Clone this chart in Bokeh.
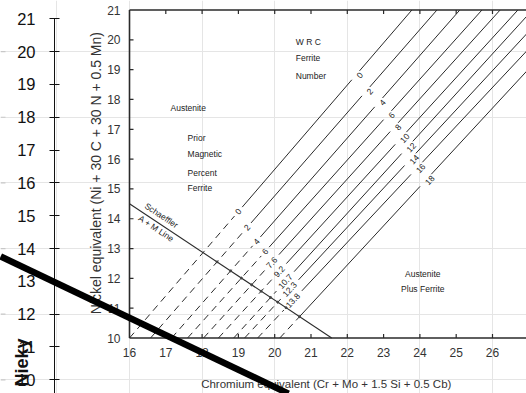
import math
from bokeh.plotting import figure
from bokeh.models import Range1d, LinearAxis, FixedTicker
from bokeh.core.properties import value
from bokeh.embed import file_html
from bokeh.resources import INLINE

# ---------------- overlay chart (front) ----------------
overlay_ticks = [10, 11, 12, 13, 14, 15, 16, 17, 18, 19, 20, 21]
overlay_grid = [10, 12, 14, 16, 18, 20]
overlay_label = "Nieky"
thick_x = [12.45, 20.38]      # along Cr-equivalent scale
thick_y = [13.76, 9.58]       # overlay Ni-equivalent scale

# ---------------- WRC diagram (background) ----------------
cr_ticks = [16, 17, 18, 19, 20, 21, 22, 23, 24, 25, 26]
ni_ticks = [10, 11, 12, 13, 14, 15, 16, 17, 18, 19, 20, 21]
fn_labels = ["0", "2", "4", "6", "8", "10", "12", "14", "16", "18"]
pmpf_labels = ["0", "2", "4", "6", "7.6", "9.2", "10.7", "12.3", "13.8", ""]
fn_bottom_cr = [16.0, 16.58, 17.16, 17.60, 18.04, 18.45, 18.87, 19.17, 19.53, 20.14]
fn_top_cr = [23.78, 24.47, 25.10, 25.71, 26.21, 26.70, 27.10, 27.55, 28.00, 28.50]
pmpf_label_ni = [14.24, 13.71, 13.24, 12.90, 12.53, 12.23, 11.90, 11.63, 11.26, 10.71]
fn_label_ni = [18.81, 18.27, 17.90, 17.47, 17.07, 16.70, 16.39, 15.99, 15.69, 15.29]
schaeffler_cr = [16.0, 21.57]
schaeffler_ni = [14.5, 10.0]

region_text = ["W R C", "Ferrite", "Number", "Austenite", "Prior", "Magnetic",
               "Percent", "Ferrite"]
region_cr = [20.58, 20.58, 20.58, 17.13, 17.60, 17.60, 17.60, 17.60]
region_ni = [19.92, 19.38, 18.78, 17.70, 16.72, 16.16, 15.52, 15.02]
af_text = ["Austenite", "Plus Ferrite"]
af_cr = [24.08, 24.08]
af_ni = [12.16, 11.66]

ni_title = "Nickel equivalent (Ni + 30 C + 30 N + 0.5 Mn)"
cr_title = "Chromium equivalent (Cr + Mo + 1.5 Si + 0.5 Cb)"

# pixel scale of the background diagram
PX_CR = 36.3
PX_NI = 29.82
X0 = 12.446          # left edge of the canvas on the Cr scale
AXIS_X = 13.934      # where the overlay axis stands

p = figure(width=526, height=393, output_backend="svg", toolbar_location=None,
           x_range=Range1d(X0, 26.937), y_range=Range1d(9.583, 21.558),
           x_axis_location=None, y_axis_location=None,
           min_border_left=0, min_border_right=0, min_border_top=0, min_border_bottom=0)
p.extra_y_ranges = {"wrc": Range1d(8.139, 21.319)}
p.outline_line_color = None
p.background_fill_color = "white"
p.border_fill_color = "white"

INK = "#2a2a2a"
FONT = value("Liberation Sans")

# faint stubs at the left edge
p.segment(x0=[X0] * len(overlay_grid), y0=overlay_grid, x1=[X0 + 5.0 / PX_CR] * len(overlay_grid),
          y1=overlay_grid, line_color="#c8c8c8", line_width=1.2)

# border of the diagram
p.multi_line(xs=[[cr_ticks[0], cr_ticks[0]], [cr_ticks[0], 27.6], [cr_ticks[0], 27.6]],
             ys=[[ni_ticks[0], ni_ticks[-1]], [ni_ticks[-1], ni_ticks[-1]], [ni_ticks[0], ni_ticks[0]]],
             y_range_name="wrc", line_color=INK, line_width=1.6)

# ticks
tl_cr = 4.0 / PX_CR
tl_ni = 4.0 / PX_NI
inner_cr = cr_ticks[1:]
inner_ni = ni_ticks[1:-1]
p.segment(x0=inner_cr, y0=[ni_ticks[0]] * len(inner_cr), x1=inner_cr,
          y1=[ni_ticks[0] + tl_ni] * len(inner_cr), y_range_name="wrc", line_color=INK, line_width=1.2)
p.segment(x0=inner_cr, y0=[ni_ticks[-1]] * len(inner_cr), x1=inner_cr,
          y1=[ni_ticks[-1] - tl_ni] * len(inner_cr), y_range_name="wrc", line_color=INK, line_width=1.2)
p.segment(x0=[cr_ticks[0]] * len(inner_ni), y0=inner_ni, x1=[cr_ticks[0] + tl_cr] * len(inner_ni),
          y1=inner_ni, y_range_name="wrc", line_color=INK, line_width=1.2)

# tick labels
p.text(x=[cr_ticks[0] - 9.0 / PX_CR] * len(ni_ticks), y=ni_ticks, text=[str(v) for v in ni_ticks],
       y_range_name="wrc", text_align="right", text_baseline="middle",
       text_font=FONT, text_font_size="12px", text_color="#333333")
p.text(x=cr_ticks, y=[ni_ticks[0] - 14.5 / PX_NI] * len(cr_ticks), text=[str(v) for v in cr_ticks],
       y_range_name="wrc", text_align="center", text_baseline="middle",
       text_font=FONT, text_font_size="12px", text_color="#333333")

# axis titles of the diagram
p.text(x=[cr_ticks[0] - 34.0 / PX_CR], y=[15.53], text=[ni_title], angle=math.pi / 2,
       y_range_name="wrc", text_align="center", text_baseline="middle",
       text_font=FONT, text_font_size="14px", text_color="#333333")
p.text(x=[21.42], y=[ni_ticks[0] - 45.5 / PX_NI], text=[cr_title],
       y_range_name="wrc", text_align="center", text_baseline="middle",
       text_font=FONT, text_font_size="11.5px", text_color="#333333")

# Schaeffler A + M line
p.line(x=schaeffler_cr, y=schaeffler_ni, y_range_name="wrc", line_color=INK, line_width=1.1)
s_ang = -math.atan(((schaeffler_ni[0] - schaeffler_ni[1]) * PX_NI) /
                   ((schaeffler_cr[1] - schaeffler_cr[0]) * PX_CR))
p.text(x=[16.88], y=[14.11], text=["Schaeffler"], angle=s_ang, y_range_name="wrc",
       text_align="center", text_baseline="middle", text_font=FONT,
       text_font_size="8.5px", text_color="#222222")
p.text(x=[16.74], y=[13.67], text=["A + M Line"], angle=s_ang, y_range_name="wrc",
       text_align="center", text_baseline="middle", text_font=FONT,
       text_font_size="8.5px", text_color="#222222")

# iso-ferrite lines
def cr_at(k, ni):
    return fn_bottom_cr[k] + (ni - 10.0) * (fn_top_cr[k] - fn_bottom_cr[k]) / 11.0

s_slope = (schaeffler_ni[1] - schaeffler_ni[0]) / (schaeffler_cr[1] - schaeffler_cr[0])

dash_xs, dash_ys, sol_xs, sol_ys = [], [], [], []
lab_x, lab_y, lab_t, lab_a = [], [], [], []
dot_x, dot_y = [], []
for k in range(len(fn_labels)):
    ang = math.atan((11.0 * PX_NI) / ((fn_top_cr[k] - fn_bottom_cr[k]) * PX_CR))
    s = math.sin(ang)
    low_t = pmpf_labels[k]
    g_low = ((2.4 * len(low_t) + 3.5) * s / PX_NI) if low_t else 0.0
    g_up = (2.4 * len(fn_labels[k]) + 3.5) * s / PX_NI
    a = pmpf_label_ni[k] - g_low
    b = pmpf_label_ni[k] + g_low
    c = fn_label_ni[k] - g_up
    d = fn_label_ni[k] + g_up
    dash_xs.append([cr_at(k, 10.0), cr_at(k, a)]); dash_ys.append([10.0, a])
    sol_xs.append([cr_at(k, b), cr_at(k, c)]); sol_ys.append([b, c])
    sol_xs.append([cr_at(k, d), cr_at(k, 21.0)]); sol_ys.append([d, 21.0])
    if low_t:
        lab_x.append(cr_at(k, pmpf_label_ni[k])); lab_y.append(pmpf_label_ni[k])
        lab_t.append(low_t); lab_a.append(ang)
    lab_x.append(cr_at(k, fn_label_ni[k]) + 4.0 / PX_CR); lab_y.append(fn_label_ni[k])
    lab_t.append(fn_labels[k]); lab_a.append(ang)
    # crossing with the Schaeffler line
    if k > 0:
        inv = (fn_top_cr[k] - fn_bottom_cr[k]) / 11.0
        ni_c = (schaeffler_ni[0] + s_slope * (fn_bottom_cr[k] - 10.0 * inv - schaeffler_cr[0])) / (1.0 - s_slope * inv)
        dot_x.append(cr_at(k, ni_c)); dot_y.append(ni_c)

p.multi_line(xs=dash_xs, ys=dash_ys, y_range_name="wrc", line_color=INK,
             line_width=1.0, line_dash="7 5")
p.multi_line(xs=sol_xs, ys=sol_ys, y_range_name="wrc", line_color=INK, line_width=1.0)
p.scatter(x=dot_x, y=dot_y, y_range_name="wrc", size=2, color="#444444")
p.text(x=lab_x, y=lab_y, text=lab_t, angle=lab_a, y_range_name="wrc",
       text_align="center", text_baseline="middle", text_font=FONT,
       text_font_size="8.5px", text_color="#222222")

# region labels
p.text(x=region_cr, y=region_ni, text=region_text, y_range_name="wrc",
       text_align="left", text_baseline="middle", text_font=FONT,
       text_font_size="8.5px", text_color="#222222")
p.text(x=af_cr, y=af_ni, text=af_text, y_range_name="wrc",
       text_align="center", text_baseline="middle", text_font=FONT,
       text_font_size="8.5px", text_color="#222222")

# ---------------- overlay axis (fixed inside the frame) ----------------
ax = LinearAxis(fixed_location=AXIS_X, ticker=FixedTicker(ticks=overlay_ticks),
                bounds=(9.0, overlay_ticks[-1]))
ax.major_tick_in = 5
ax.major_tick_out = 5
ax.minor_tick_line_color = None
ax.major_label_standoff = 14
ax.major_label_text_font = "Liberation Sans"
ax.major_label_text_font_size = "16.5px"
ax.major_label_text_color = "#111111"
ax.axis_line_color = "#111111"
ax.major_tick_line_color = "#111111"
p.add_layout(ax, "left")

p.text(x=[X0 + 22.0 / PX_CR], y=[11.26], text=[overlay_label], angle=math.pi / 2,
       text_align="right", text_baseline="middle", text_font=FONT,
       text_font_style="bold", text_font_size="18px", text_color="#111111")

# thick overlay line, in front of everything
p.line(x=thick_x, y=thick_y, line_color="black", line_width=6.5, level="overlay")

open("out.html", "w").write(file_html(p, INLINE))
